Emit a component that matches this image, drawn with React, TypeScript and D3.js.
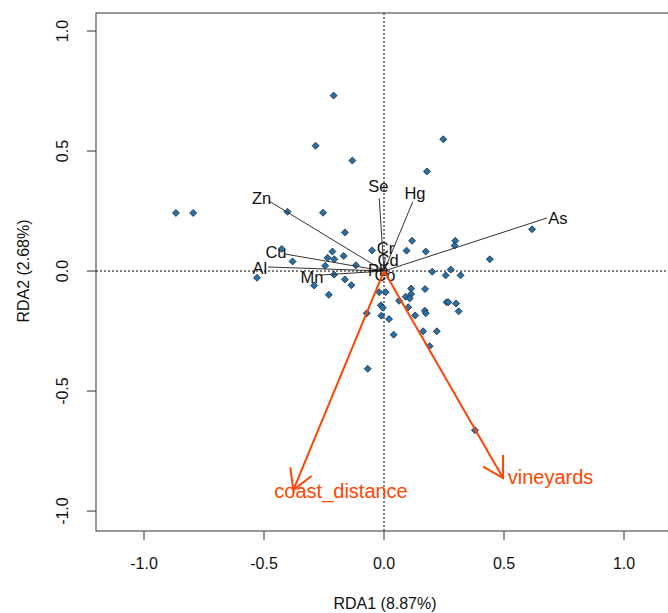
import React from 'react';
import * as d3 from 'd3';

// site scores (RDA1, RDA2)
const siteX = [-0.21, -0.285, -0.132, 0.247, 0.179, -0.867, -0.795, -0.402, -0.254, -0.163,
  -0.426, -0.381, -0.215, -0.235, -0.207, -0.168, -0.245, -0.117, -0.05, -0.529,
  -0.208, -0.163, -0.136, -0.291, -0.23, -0.02, 0.007, 0.117, 0.094, 0.174,
  0.297, 0.294, 0.441, 0.617, 0.201, 0.278, 0.257, 0.319, 0.113, 0.113,
  0.171, 0.09, 0.063, 0.107, -0.013, -0.005, -0.072, -0.011, 0.021, 0.101,
  0.17, 0.174, 0.13, 0.261, 0.268, 0.3, 0.311, 0.163, 0.22, 0.04,
  0.19, -0.068, 0.379];
const siteY = [0.731, 0.522, 0.46, 0.549, 0.415, 0.242, 0.242, 0.247, 0.243, 0.161,
  0.092, 0.04, 0.081, 0.055, 0.049, 0.063, 0.022, 0.024, 0.086, -0.028,
  -0.015, -0.035, -0.059, -0.06, -0.099, -0.088, -0.088, 0.126, 0.085, 0.081,
  0.126, 0.106, 0.049, 0.174, -0.003, 0.006, -0.018, -0.018, -0.073, -0.096,
  -0.075, -0.107, -0.124, -0.114, -0.143, -0.153, -0.176, -0.186, -0.2, -0.151,
  -0.165, -0.176, -0.185, -0.13, -0.13, -0.135, -0.168, -0.251, -0.251, -0.265,
  -0.313, -0.407, -0.663];

// response variables (black lines)
const spNames = ['Zn', 'Cu', 'Al', 'Mn', 'Se', 'Hg', 'As', 'Cr', 'Cd', 'Pb', 'Co'];
const spX = [-0.475, -0.413, -0.483, -0.267, -0.02, 0.12, 0.679, 0.005, 0.012, -0.015, 0.002];
const spY = [0.289, 0.071, 0.017, -0.017, 0.303, 0.289, 0.221, 0.06, 0.035, 0.002, -0.01];
const spLabX = [-0.51, -0.45, -0.517, -0.3, -0.024, 0.129, 0.725, 0.006, 0.017, -0.025, 0.004];
const spLabY = [0.302, 0.079, 0.0125, -0.025, 0.355, 0.325, 0.221, 0.096, 0.046, 0.004, -0.017];

// explanatory variables (red arrows)
const envNames = ['coast_distance', 'vineyards'];
const envX = [-0.378, 0.496];
const envY = [-0.9125, -0.8625];
const envLabX = [-0.179, 0.694];
const envLabY = [-0.917, -0.856];

const xTicks = [-1.0, -0.5, 0.0, 0.5, 1.0];
const yTicks = [-1.0, -0.5, 0.0, 0.5, 1.0];

const FONT = '"Liberation Sans", Arial, sans-serif';
const RED = '#ff4500';

export default function App() {
  const width = 668;
  const height = 613;

  const x = d3.scaleLinear().domain([-1.2, 1.2]).range([96, 672]);
  const y = d3.scaleLinear().domain([-1.083, 1.075]).range([531, 13]);

  const [x0, x1] = x.range();
  const [yb, yt] = y.range();

  const diamond = (cx: number, cy: number, r = 3.5) =>
    `M${cx},${cy - r}L${cx + r},${cy}L${cx},${cy + r}L${cx - r},${cy}Z`;

  // arrow head barbs in pixel space
  const head = (ex: number, ey: number) => {
    const ox = x(0), oy = y(0);
    const dx = ox - ex, dy = oy - ey;
    const len = Math.hypot(dx, dy);
    const ux = dx / len, uy = dy / len;
    const L = 23, a = Math.PI / 6;
    const b1 = [ex + L * (ux * Math.cos(a) - uy * Math.sin(a)), ey + L * (ux * Math.sin(a) + uy * Math.cos(a))];
    const b2 = [ex + L * (ux * Math.cos(a) + uy * Math.sin(a)), ey + L * (-ux * Math.sin(a) + uy * Math.cos(a))];
    return `M${b1[0]},${b1[1]}L${ex},${ey}L${b2[0]},${b2[1]}`;
  };

  return (
    <svg width={width} height={height} style={{ position: 'absolute', left: 0, top: 0, background: '#fff' }}
      fontFamily={FONT}>
      {/* zero lines */}
      <line x1={x(0)} x2={x(0)} y1={yt} y2={yb} stroke="#000" strokeDasharray="2,2" />
      <line x1={x0} x2={x1} y1={y(0)} y2={y(0)} stroke="#000" strokeDasharray="2,2" />

      {/* sites */}
      {siteX.map((v, i) => (
        <path key={i} d={diamond(x(v), y(siteY[i]))} fill="#2771a8" stroke="#1a2a3a" strokeWidth={0.8} />
      ))}

      {/* response lines */}
      {spNames.map((n, i) => (
        <line key={n} x1={x(0)} y1={y(0)} x2={x(spX[i])} y2={y(spY[i])} stroke="#333" strokeWidth={1} />
      ))}
      {spNames.map((n, i) => (
        <text key={n} x={x(spLabX[i])} y={y(spLabY[i])} dy="0.35em" textAnchor="middle" fontSize={16.5} fill="#111">
          {n}
        </text>
      ))}

      {/* explanatory arrows */}
      {envNames.map((n, i) => (
        <g key={n}>
          <line x1={x(0)} y1={y(0)} x2={x(envX[i])} y2={y(envY[i])} stroke={RED} strokeWidth={2} />
          <path d={head(x(envX[i]), y(envY[i]))} fill="none" stroke={RED} strokeWidth={2} />
          <text x={x(envLabX[i])} y={y(envLabY[i])} dy="0.35em" textAnchor="middle" fontSize={20} fill={RED}>
            {n}
          </text>
        </g>
      ))}

      {/* box */}
      <rect x={x0} y={yt} width={x1 - x0} height={yb - yt} fill="none" stroke="#333" strokeWidth={1} />

      {/* x axis */}
      {xTicks.map(t => (
        <g key={t}>
          <line x1={x(t)} x2={x(t)} y1={yb} y2={yb + 9} stroke="#333" />
          <text x={x(t)} y={yb + 32} dy="0.35em" textAnchor="middle" fontSize={16} fill="#111">
            {t.toFixed(1)}
          </text>
        </g>
      ))}
      <text x={x(0) + 1} y={603} dy="0.35em" textAnchor="middle" fontSize={16} fill="#111">
        RDA1 (8.87%)
      </text>

      {/* y axis */}
      {yTicks.map(t => (
        <g key={t}>
          <line x1={x0 - 9} x2={x0} y1={y(t)} y2={y(t)} stroke="#333" />
          <text x={62} y={y(t)} dy="0.35em" textAnchor="middle" fontSize={16} fill="#111"
            transform={`rotate(-90 62,${y(t)})`}>
            {t.toFixed(1)}
          </text>
        </g>
      ))}
      <text x={23} y={y(0)} dy="0.35em" textAnchor="middle" fontSize={16} fill="#111"
        transform={`rotate(-90 23,${y(0)})`}>
        RDA2 (2.68%)
      </text>
    </svg>
  );
}
